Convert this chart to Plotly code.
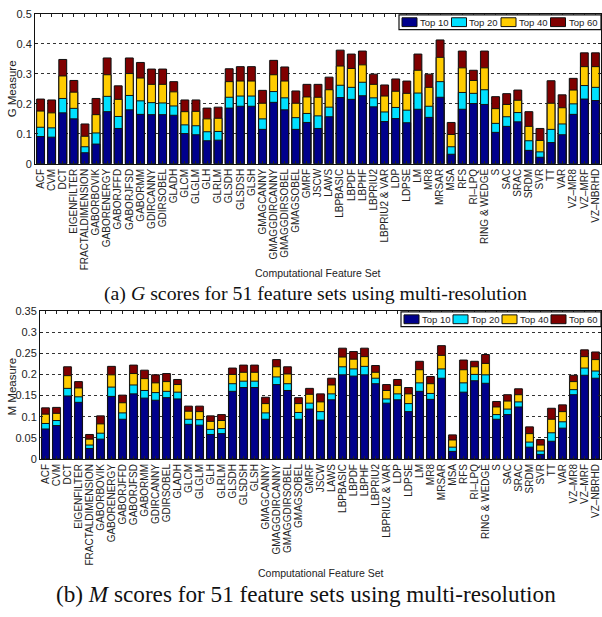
import plotly.graph_objects as go

W, H = 602, 617

features = [
    "ACF", "CVM", "DCT", "EIGENFILTER", "FRACTALDIMENSION", "GABORBOVIK",
    "GABORENERGY", "GABORJFFD", "GABORJFSD", "GABORMM", "GDIRCANNY",
    "GDIRSOBEL", "GLADH", "GLCM", "GLGLM", "GLH", "GLRLM", "GLSDH",
    "GLSDSH", "GLSH", "GMAGCANNY", "GMAGGDIRCANNY", "GMAGGDIRSOBEL",
    "GMAGSOBEL", "GMRF", "JSCW", "LAWS", "LBPBASIC", "LBPDF", "LBPHF",
    "LBPRIU2", "LBPRIU2 & VAR", "LDP", "LDPSE", "LM", "MR8", "MRSAR",
    "MSA", "RFS", "RI\u2013LPQ", "RING & WEDGE", "S", "SAC", "SRAC",
    "SRDM", "SVR", "TT", "VAR", "VZ\u2013MR8", "VZ\u2013MRF", "VZ\u2013NBRHD",
]

# G measure (cumulative: top-N selected features)
g_top10 = [0.091, 0.089, 0.170, 0.150, 0.037, 0.066, 0.174, 0.118, 0.180, 0.165,
           0.164, 0.164, 0.162, 0.101, 0.097, 0.077, 0.079, 0.186, 0.192, 0.192,
           0.115, 0.205, 0.180, 0.115, 0.138, 0.118, 0.157, 0.221, 0.215, 0.227,
           0.190, 0.141, 0.151, 0.137, 0.182, 0.155, 0.222, 0.032, 0.182, 0.201,
           0.198, 0.105, 0.125, 0.140, 0.045, 0.022, 0.071, 0.097, 0.165, 0.216,
           0.211]
g_top20 = [0.122, 0.120, 0.218, 0.185, 0.057, 0.103, 0.225, 0.158, 0.228, 0.210,
           0.204, 0.203, 0.193, 0.130, 0.127, 0.107, 0.108, 0.222, 0.226, 0.226,
           0.150, 0.241, 0.220, 0.154, 0.168, 0.160, 0.189, 0.262, 0.255, 0.272,
           0.220, 0.173, 0.188, 0.179, 0.236, 0.192, 0.274, 0.057, 0.238, 0.235,
           0.247, 0.135, 0.157, 0.171, 0.077, 0.040, 0.115, 0.133, 0.200, 0.261,
           0.255]
g_top40 = [0.176, 0.170, 0.293, 0.239, 0.092, 0.164, 0.297, 0.215, 0.301, 0.286,
           0.265, 0.265, 0.240, 0.174, 0.175, 0.150, 0.152, 0.274, 0.276, 0.276,
           0.202, 0.297, 0.276, 0.202, 0.223, 0.222, 0.247, 0.326, 0.318, 0.330,
           0.265, 0.226, 0.242, 0.235, 0.312, 0.255, 0.355, 0.098, 0.320, 0.278,
           0.320, 0.184, 0.198, 0.212, 0.125, 0.078, 0.202, 0.187, 0.246, 0.324,
           0.324]
g_top60 = [0.216, 0.213, 0.348, 0.278, 0.133, 0.218, 0.353, 0.260, 0.353, 0.338,
           0.316, 0.316, 0.274, 0.213, 0.213, 0.186, 0.189, 0.317, 0.324, 0.324,
           0.245, 0.345, 0.323, 0.243, 0.265, 0.265, 0.289, 0.379, 0.366, 0.376,
           0.299, 0.263, 0.283, 0.276, 0.366, 0.299, 0.413, 0.138, 0.376, 0.312,
           0.376, 0.224, 0.234, 0.246, 0.174, 0.118, 0.277, 0.230, 0.285, 0.370,
           0.370]

# M measure (cumulative: top-N selected features)
m_top10 = [0.071, 0.079, 0.149, 0.134, 0.025, 0.047, 0.148, 0.094, 0.154, 0.144,
           0.139, 0.145, 0.142, 0.082, 0.080, 0.058, 0.060, 0.160, 0.169, 0.169,
           0.094, 0.176, 0.162, 0.094, 0.118, 0.092, 0.140, 0.199, 0.196, 0.199,
           0.178, 0.132, 0.140, 0.112, 0.160, 0.141, 0.191, 0.018, 0.158, 0.185,
           0.179, 0.094, 0.105, 0.123, 0.028, 0.011, 0.042, 0.073, 0.152, 0.198,
           0.191]
m_top20 = [0.084, 0.091, 0.167, 0.147, 0.033, 0.061, 0.170, 0.109, 0.175, 0.162,
           0.157, 0.160, 0.158, 0.094, 0.093, 0.070, 0.072, 0.178, 0.184, 0.184,
           0.109, 0.194, 0.178, 0.110, 0.132, 0.112, 0.154, 0.218, 0.213, 0.219,
           0.191, 0.142, 0.154, 0.131, 0.180, 0.155, 0.213, 0.028, 0.180, 0.200,
           0.199, 0.105, 0.118, 0.135, 0.040, 0.019, 0.062, 0.088, 0.164, 0.215,
           0.208]
m_top40 = [0.106, 0.108, 0.197, 0.168, 0.047, 0.083, 0.199, 0.133, 0.202, 0.190,
           0.180, 0.183, 0.176, 0.113, 0.112, 0.089, 0.091, 0.200, 0.205, 0.205,
           0.131, 0.218, 0.201, 0.131, 0.153, 0.135, 0.175, 0.241, 0.236, 0.242,
           0.205, 0.162, 0.174, 0.154, 0.211, 0.178, 0.245, 0.045, 0.211, 0.218,
           0.226, 0.123, 0.137, 0.152, 0.060, 0.033, 0.094, 0.112, 0.183, 0.242,
           0.235]
m_top60 = [0.121, 0.122, 0.218, 0.183, 0.058, 0.102, 0.219, 0.151, 0.222, 0.210,
           0.199, 0.202, 0.188, 0.125, 0.125, 0.102, 0.105, 0.215, 0.222, 0.222,
           0.146, 0.235, 0.218, 0.145, 0.167, 0.154, 0.191, 0.262, 0.254, 0.262,
           0.221, 0.176, 0.188, 0.169, 0.231, 0.195, 0.268, 0.057, 0.234, 0.231,
           0.247, 0.136, 0.152, 0.166, 0.076, 0.046, 0.120, 0.128, 0.198, 0.258,
           0.253]

series_names = ["Top 10", "Top 20", "Top 40", "Top 60"]
colors = {"Top 10": "#00008C", "Top 20": "#00E0FF",
          "Top 40": "#FFCC00", "Top 60": "#800000"}

g_series = {"Top 10": g_top10, "Top 20": g_top20, "Top 40": g_top40, "Top 60": g_top60}
m_series = {"Top 10": m_top10, "Top 20": m_top20, "Top 40": m_top40, "Top 60": m_top60}


def px_x(px):
    return px / W


def px_y(py):
    return 1 - py / H


fig = go.Figure()

# cumulative values are overlaid, tallest first so shorter ones sit in front
for data, xa, ya in [(g_series, "x", "y"), (m_series, "x2", "y2")]:
    top60 = data["Top 60"]
    fig.add_trace(go.Bar(
        x=features, y=top60, xaxis=xa, yaxis=ya, width=0.86,
        marker=dict(color="rgba(0,0,0,0.16)", line=dict(width=0)),
        showlegend=False, hoverinfo="skip",
    ))
    for name in reversed(series_names):
        fig.add_trace(go.Bar(
            x=features, y=data[name], name=name, xaxis=xa, yaxis=ya,
            width=0.7, showlegend=False,
            marker=dict(color=colors[name], line=dict(color="#111111", width=1)),
        ))

sans = "Liberation Sans, Arial, sans-serif"
serif = "Liberation Serif, Times New Roman, serif"

tick_font = dict(family=sans, size=11, color="#222")
xtick_font = dict(family=sans, size=10, color="#222")

common_x = dict(
    type="category", range=[-0.5, 50.5], tickangle=-90, tickfont=xtick_font,
    tickmode="array", tickvals=features, ticktext=features,
    ticks="inside", ticklen=3, tickcolor="#222", mirror="ticks",
    showline=True, linecolor="#111", linewidth=1, showgrid=False,
)
common_y = dict(
    tickfont=tick_font, ticks="inside", ticklen=3, tickcolor="#222",
    mirror="ticks", showline=True, linecolor="#111", linewidth=1,
    showgrid=True, gridcolor="#333", griddash="dot", gridwidth=1,
    zeroline=False,
)

fig.update_layout(
    width=W, height=H, margin=dict(l=0, r=0, t=0, b=0),
    paper_bgcolor="white", plot_bgcolor="white",
    barmode="overlay", showlegend=False,
    xaxis=dict(domain=[px_x(35), px_x(601)], anchor="y", **common_x),
    yaxis=dict(domain=[px_y(161), px_y(8)], anchor="x", range=[0, 0.5],
               dtick=0.1, **common_y),
    xaxis2=dict(domain=[px_x(40), px_x(601)], anchor="y2", **common_x),
    yaxis2=dict(domain=[px_y(462), px_y(311)], anchor="x2", range=[0, 0.35],
                dtick=0.05, **common_y),
)

annotations = [
    dict(text="G Measure", x=px_x(12), y=px_y(85), textangle=-90,
         font=dict(family=sans, size=11.5, color="#222")),
    dict(text="M Measure", x=px_x(12), y=px_y(388), textangle=-90,
         font=dict(family=sans, size=11.5, color="#222")),
    dict(text="Computational Feature Set", x=px_x(318), y=px_y(272),
         font=dict(family=sans, size=10.5, color="#222")),
    dict(text="Computational Feature Set", x=px_x(321), y=px_y(578),
         font=dict(family=sans, size=10.5, color="#222")),
    dict(text="(a) <i>G</i> scores for 51 feature sets using multi-resolution",
         x=px_x(315), y=px_y(293), font=dict(family=serif, size=19.8, color="#111")),
    dict(text="(b) <i>M</i> scores for 51 feature sets using multi-resolution",
         x=px_x(306), y=px_y(600), font=dict(family=serif, size=23.2, color="#111")),
]
for a in annotations:
    a.update(xref="paper", yref="paper", showarrow=False,
             xanchor="center", yanchor="middle")

shapes = []


def add_legend(x0, y0, x1, y1):
    # framed key with one swatch per series
    shapes.append(dict(type="rect", xref="paper", yref="paper",
                       x0=px_x(x0), x1=px_x(x1), y0=px_y(y1), y1=px_y(y0),
                       line=dict(color="#111", width=1.2), fillcolor="white"))
    step = (x1 - x0 - 4) / 4.0
    for i, name in enumerate(series_names):
        sx = x0 + 3 + i * step
        shapes.append(dict(type="rect", xref="paper", yref="paper",
                           x0=px_x(sx), x1=px_x(sx + 15),
                           y0=px_y(y1 - 3), y1=px_y(y0 + 3),
                           line=dict(color="#111", width=1),
                           fillcolor=colors[name]))
        annotations.append(dict(text=name, xref="paper", yref="paper",
                                x=px_x(sx + 16), y=px_y((y0 + y1) / 2),
                                xanchor="left", yanchor="middle", showarrow=False,
                                font=dict(family=sans, size=9.5, color="#222")))


add_legend(399, 9, 601, 24)
add_legend(401, 312, 601, 327)

fig.update_layout(annotations=annotations, shapes=shapes)

fig.write_html("out.html")
